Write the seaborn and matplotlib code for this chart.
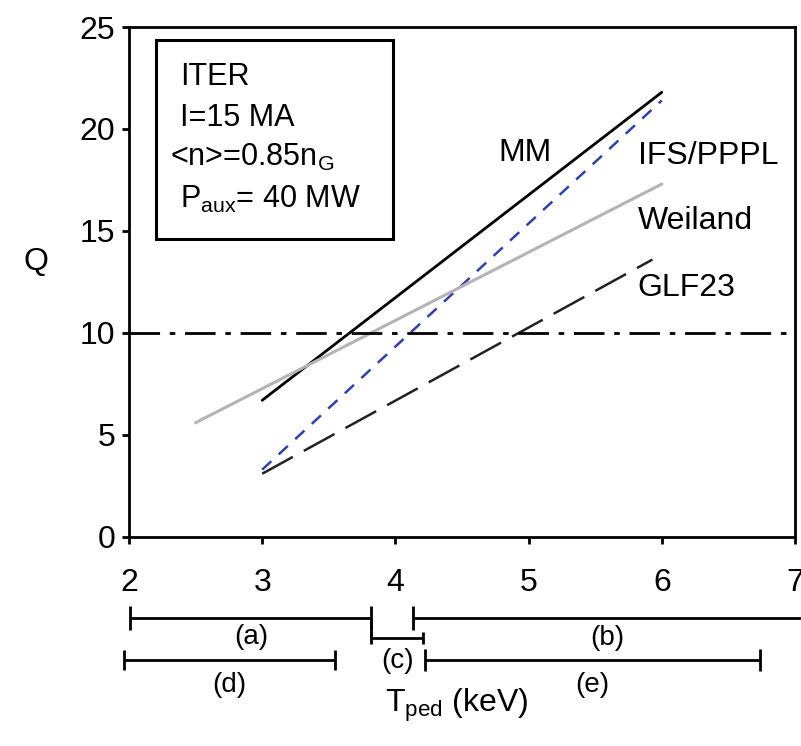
import numpy as np
import pandas as pd
import matplotlib
matplotlib.use("Agg")
import matplotlib.pyplot as plt
import seaborn as sns

sns.set_style("ticks")
plt.rcParams['font.family'] = ['Liberation Sans', 'DejaVu Sans']
plt.rcParams['mathtext.fontset'] = 'custom'
plt.rcParams['mathtext.rm'] = 'Liberation Sans'
plt.rcParams['mathtext.it'] = 'Liberation Sans:italic'
plt.rcParams['text.color'] = 'black'
plt.rcParams['axes.labelcolor'] = 'black'
plt.rcParams['axes.edgecolor'] = 'black'
plt.rcParams['xtick.color'] = 'black'
plt.rcParams['ytick.color'] = 'black'

# Q vs pedestal temperature
mm_t = [3.0, 6.0]
mm_q = [6.7, 21.8]
ifs_t = [3.0, 6.0]
ifs_q = [3.3, 21.4]
weiland_t = [2.5, 6.0]
weiland_q = [5.6, 17.3]
glf_t = [3.0, 5.93]
glf_q = [3.1, 13.6]
q_target = 10

# temperature ranges shown under the axis (keV)
range_names = ['(a)', '(b)', '(c)', '(d)', '(e)']
range_lo = [2.01, 4.13, 3.82, 1.96, 4.22]
range_hi = [3.82, 7.05, 4.21, 3.55, 6.74]

fig = plt.figure(figsize=(8.01, 7.46), dpi=100)
ax = fig.add_axes([0.161, 0.2802, 0.8315, 0.6836])

sns.lineplot(x=mm_t, y=mm_q, ax=ax, color='black', linewidth=2.0)
sns.lineplot(x=ifs_t, y=ifs_q, ax=ax, color='#3040b0', linewidth=1.8,
             linestyle=(0, (5, 4)))
sns.lineplot(x=weiland_t, y=weiland_q, ax=ax, color='#b4b4b4', linewidth=2.2)
sns.lineplot(x=glf_t, y=glf_q, ax=ax, color='#222222', linewidth=1.8,
             linestyle=(0, (14, 5)))
ax.axhline(q_target, color='black', linewidth=2, linestyle=(0, (11, 3.5, 2, 3.5)))

ax.set_xlim(2, 7)
ax.set_ylim(0, 25)
ax.set_xticks(range(2, 8))
ax.set_yticks(range(0, 26, 5))
ax.tick_params(labelsize=23, width=2, length=5, pad=5)
ax.tick_params(axis='x', pad=17)
for s in ax.spines.values():
    s.set_linewidth(2)

ax.set_ylabel('Q', fontsize=23, rotation=0)
ax.yaxis.set_label_coords(-0.14, 0.51)
ax.set_xlabel(r'T$_{\mathrm{ped}}$ (keV)', fontsize=23)
ax.xaxis.set_label_coords(0.4925, -0.293)

# curve labels
ax.text(4.77, 18.8, 'MM', fontsize=23, va='center')
ax.text(5.82, 18.7, 'IFS/PPPL', fontsize=23, va='center')
ax.text(5.82, 15.5, 'Weiland', fontsize=23, va='center')
ax.text(5.82, 12.2, 'GLF23', fontsize=23, va='center')

# info box
ax.add_patch(plt.Rectangle((0.0405, 0.584), 0.3555, 0.3905, transform=ax.transAxes,
                           fill=False, edgecolor='black', linewidth=2.2))
box_lines = ['ITER', 'I=15 MA', r'<n>=0.85n$_{\mathrm{G}}$', r'P$_{\mathrm{aux}}$= 40 MW']
box_x = [0.0766, 0.0766, 0.0616, 0.0766]
box_y = [0.902, 0.8216, 0.745, 0.661]
for t, bx, by in zip(box_lines, box_x, box_y):
    ax.text(bx, by, t, transform=ax.transAxes, fontsize=22, va='center')

# range bars below the axis
row_y = {'(a)': -3.97, '(b)': -3.97, '(c)': -4.95, '(d)': -6.03, '(e)': -6.03}
cap = {'(a)': 0.6, '(b)': 0.6, '(c)': 0.3, '(d)': 0.5, '(e)': 0.55}
label_y = {'(a)': -4.9, '(b)': -4.95, '(c)': -6.1, '(d)': -7.25, '(e)': -7.25}
for name, lo, hi in zip(range_names, range_lo, range_hi):
    y = row_y[name]
    ax.hlines(y, lo, hi, color='black', linewidth=2, clip_on=False)
    ax.vlines(lo, y - cap[name], y + cap[name], color='black', linewidth=2, clip_on=False)
    if name != '(b)':
        ax.vlines(hi, y - cap[name], y + cap[name], color='black', linewidth=2, clip_on=False)
    ax.text((lo + hi) / 2, label_y[name], name, fontsize=20, ha='center', va='center',
            clip_on=False)
# (a) end tick runs down to the (c) bracket
ax.vlines(range_hi[0], row_y['(a)'], row_y['(c)'], color='black', linewidth=2, clip_on=False)

fig.savefig('out.png', dpi=100)
